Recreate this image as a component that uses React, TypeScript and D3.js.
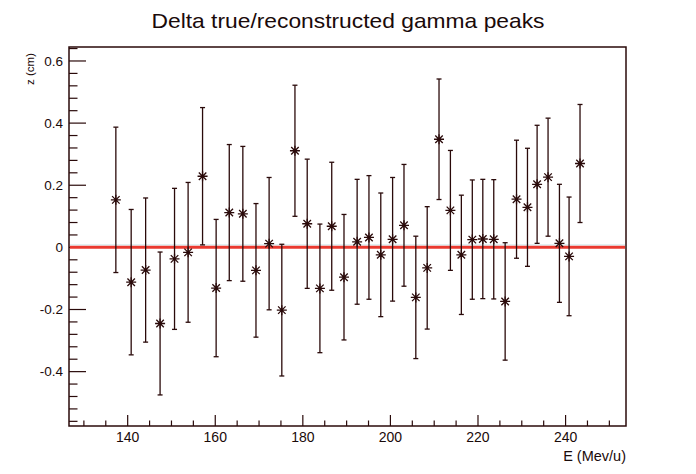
import { useEffect, useRef } from "react"
import * as d3 from "d3"

// E (MeV/u) of each peak
const energy = [
  137.3, 140.8, 144.1, 147.4, 150.7, 153.8, 157.1, 160.2, 163.2, 166.3, 169.3, 172.3, 175.2,
  178.2, 181.0, 183.9, 186.6, 189.4, 192.4, 195.1, 197.8, 200.5, 203.1, 205.8, 208.4, 211.1,
  213.7, 216.2, 218.7, 221.1, 223.6, 226.2, 228.8, 231.3, 233.5, 236.0, 238.6, 240.8, 243.3,
]

// delta z (cm)
const delta = [
  0.153, -0.112, -0.073, -0.245, -0.037, -0.016, 0.229, -0.131, 0.112, 0.108, -0.074, 0.012,
  -0.202, 0.311, 0.076, -0.132, 0.068, -0.096, 0.018, 0.032, -0.024, 0.026, 0.071, -0.161,
  -0.066, 0.348, 0.119, -0.024, 0.025, 0.027, 0.026, -0.174, 0.155, 0.129, 0.203, 0.226,
  0.013, -0.029, 0.27,
]

// error on delta z (cm)
const deltaErr = [
  0.234, 0.234, 0.232, 0.23, 0.227, 0.225, 0.221, 0.221, 0.219, 0.217, 0.215, 0.213, 0.212,
  0.211, 0.208, 0.207, 0.206, 0.202, 0.201, 0.199, 0.199, 0.199, 0.196, 0.197, 0.197, 0.194,
  0.193, 0.192, 0.192, 0.192, 0.192, 0.189, 0.19, 0.19, 0.19, 0.19, 0.19, 0.191, 0.19,
]

const xTicks = [140, 160, 180, 200, 220, 240]
const yTicks = [-0.4, -0.2, 0, 0.2, 0.4, 0.6]

const title = "Delta true/reconstructed gamma peaks"
const xTitle = "E (Mev/u)"
const yTitle = "z (cm)"

export default function App() {
  const svgRef = useRef<SVGSVGElement>(null)

  useEffect(() => {
    if (!svgRef.current) return
    d3.select(svgRef.current).selectAll("*").remove()

    const width = 696
    const height = 474
    const left = 69
    const right = 626
    const top = 47
    const bottom = 426
    const ink = "#2a0a0a"
    const font = "'Liberation Sans', Arial, Helvetica, sans-serif"

    const svg = d3.select(svgRef.current).attr("width", width).attr("height", height)

    svg.append("rect").attr("width", width).attr("height", height).attr("fill", "#fff")

    const x = d3.scaleLinear().domain([126.6, 253.8]).range([left, right])
    const y = d3.scaleLinear().domain([-0.575, 0.645]).range([bottom, top])

    // title
    svg
      .append("text")
      .attr("x", 348)
      .attr("y", 28)
      .attr("text-anchor", "middle")
      .attr("textLength", 393)
      .attr("lengthAdjust", "spacingAndGlyphs")
      .style("font-family", font)
      .style("font-size", "21px")
      .style("fill", "#1a0a0a")
      .text(title)

    // x ticks (minor every 5, major every 20)
    const xMinor = d3.range(130, 254, 5)
    svg
      .selectAll(".xminor")
      .data(xMinor)
      .enter()
      .append("line")
      .attr("x1", (d) => x(d))
      .attr("x2", (d) => x(d))
      .attr("y1", bottom)
      .attr("y2", (d) => (d % 20 === 0 ? bottom - 11 : bottom - 5.5))
      .style("stroke", ink)
      .style("stroke-width", 1.2)

    svg
      .selectAll(".xlabel")
      .data(xTicks)
      .enter()
      .append("text")
      .attr("x", (d) => x(d))
      .attr("y", 442)
      .attr("text-anchor", "middle")
      .style("font-family", font)
      .style("font-size", "14px")
      .style("fill", "#1a0a0a")
      .text((d) => d)

    // y ticks (minor every 0.04, major every 0.2)
    const yMinor = d3.range(-14, 17).map((k) => k * 0.04)
    svg
      .selectAll(".yminor")
      .data(yMinor)
      .enter()
      .append("line")
      .attr("x1", left)
      .attr("x2", (d, i) => ((i - 14 + 100) % 5 === 0 ? left + 17 : left + 8.5))
      .attr("y1", (d) => y(d))
      .attr("y2", (d) => y(d))
      .style("stroke", ink)
      .style("stroke-width", 1.2)

    svg
      .selectAll(".ylabel")
      .data(yTicks)
      .enter()
      .append("text")
      .attr("x", 63)
      .attr("y", (d) => y(d))
      .attr("dy", "0.35em")
      .attr("text-anchor", "end")
      .style("font-family", font)
      .style("font-size", "13.5px")
      .style("fill", "#1a0a0a")
      .text((d) => String(+d.toFixed(1)))

    // axis titles
    svg
      .append("text")
      .attr("x", right)
      .attr("y", 461)
      .attr("text-anchor", "end")
      .style("font-family", font)
      .style("font-size", "14.5px")
      .style("fill", "#1a0a0a")
      .text(xTitle)

    svg
      .append("text")
      .attr("transform", `translate(34,53) rotate(-90)`)
      .attr("text-anchor", "end")
      .style("font-family", font)
      .style("font-size", "11.5px")
      .style("fill", "#1a0a0a")
      .text(yTitle)

    // zero line
    svg
      .append("line")
      .attr("x1", left + 1)
      .attr("x2", right - 1)
      .attr("y1", y(0) - 2.5)
      .attr("y2", y(0) - 2.5)
      .style("stroke", "#cfe9ec")
      .style("stroke-width", 1)
    svg
      .append("line")
      .attr("x1", left + 1)
      .attr("x2", right - 1)
      .attr("y1", y(0))
      .attr("y2", y(0))
      .style("stroke", "#ea3a30")
      .style("stroke-width", 3)

    const points = energy.map((e, i) => ({ e, v: delta[i], err: deltaErr[i] }))

    // error bars
    const bars = svg.selectAll(".bar").data(points).enter().append("g")
    bars
      .append("line")
      .attr("x1", (d) => x(d.e))
      .attr("x2", (d) => x(d.e))
      .attr("y1", (d) => y(d.v + d.err))
      .attr("y2", (d) => y(d.v - d.err))
      .style("stroke", ink)
      .style("stroke-width", 1.3)
    bars
      .selectAll(".cap")
      .data((d) => [d.v + d.err, d.v - d.err].map((v) => ({ e: d.e, v })))
      .enter()
      .append("line")
      .attr("x1", (d) => x(d.e) - 2.5)
      .attr("x2", (d) => x(d.e) + 2.5)
      .attr("y1", (d) => y(d.v))
      .attr("y2", (d) => y(d.v))
      .style("stroke", ink)
      .style("stroke-width", 1.3)

    // asterisk markers
    const r = 5
    const star = d3.path()
    star.moveTo(-r, 0)
    star.lineTo(r, 0)
    star.moveTo(0, -r)
    star.lineTo(0, r)
    const q = r * 0.75
    star.moveTo(-q, -q)
    star.lineTo(q, q)
    star.moveTo(-q, q)
    star.lineTo(q, -q)
    svg
      .selectAll(".marker")
      .data(points)
      .enter()
      .append("path")
      .attr("transform", (d) => `translate(${x(d.e)},${y(d.v)})`)
      .attr("d", star.toString())
      .style("fill", "none")
      .style("stroke", ink)
      .style("stroke-width", 1.3)

    // frame
    svg
      .append("rect")
      .attr("x", left)
      .attr("y", top)
      .attr("width", right - left)
      .attr("height", bottom - top)
      .style("fill", "none")
      .style("stroke", ink)
      .style("stroke-width", 1.5)
  }, [])

  return <svg ref={svgRef} style={{ position: "absolute", left: 0, top: 0, display: "block" }}></svg>
}
